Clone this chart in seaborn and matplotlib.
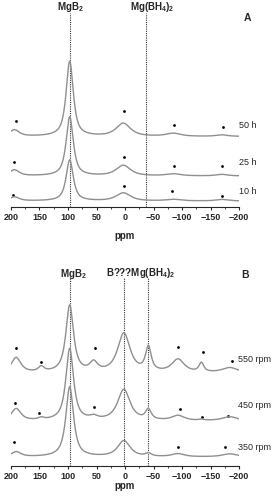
import numpy as np
import pandas as pd
import matplotlib
matplotlib.use("Agg")
import matplotlib.pyplot as plt
import seaborn as sns

# 11B MAS NMR spectra (intensity in arbitrary units)
ppm_ticks = [200, 150, 100, 50, 0, -50, -100, -150, -200]

# panel A: milling time
a_names = ["10 h", "25 h", "50 h"]
a_baseline = [6, 31, 70.5]
a_peak_pos = [194, 97, 3, -85, -170]
a_peak_fwhm = [20, 15, 30, 30, 24]
a_heights = {
    "10 h": [4, 41, 8, 1.5, 1.5],
    "25 h": [6, 59, 10.5, 2, 1.5],
    "50 h": [6.5, 75, 13, 3, 1.5],
}
a_star_ppm = {
    "10 h": [196, 2, -83, -170],
    "25 h": [195, 2, -86, -170],
    "50 h": [192, 2, -86, -172],
}
a_star_int = {
    "10 h": [12, 21, 16, 11],
    "25 h": [45, 50, 41, 41],
    "50 h": [86, 96, 82, 80],
}
a_refs = [97, -37]

# panel B: milling speed
b_names = ["350 rpm", "450 rpm", "550 rpm"]
b_baseline = [9, 45, 93]
b_peak_pos = [191, 147, 97, 55, 2, -41, -93, -134, -184]
b_peak_fwhm = [20, 12, 16, 16, 26, 12, 26, 10, 32]
b_heights = {
    "350 rpm": [5, 0, 70, 0, 16, 3, 3, 0, 3],
    "450 rpm": [12, 2, 72, 3, 31, 10, 5, 1, 4],
    "550 rpm": [15, 5, 67, 9, 39, 24, 13, 9, 5],
}
b_star_ppm = {
    "350 rpm": [195, -93, -175],
    "450 rpm": [193, 151, 54, -96, -135, -181],
    "550 rpm": [191, 147, 53, -93, -137, -188],
}
b_star_int = {
    "350 rpm": [24, 19, 19],
    "450 rpm": [63, 53, 59, 57, 49, 50],
    "550 rpm": [118, 104, 118, 119, 114, 105],
}
b_refs = [97, 2, -40]


def pseudo_voigt(x, pos, fwhm, height, eta):
    y = np.zeros_like(x)
    for p, w, h in zip(pos, fwhm, height):
        u = (x - p) / (w / 2)
        y += h * (eta / (1 + u ** 2) + (1 - eta) * np.exp(-np.log(2) * u ** 2))
    return y


sns.set_style("white")
plt.rcParams["font.family"] = ["Liberation Sans", "DejaVu Sans"]
plt.rcParams["mathtext.default"] = "regular"

grey = "#8f8f8f"
ppm = np.arange(200, -200.25, -0.25)

fig = plt.figure(figsize=(2.75, 4.99), dpi=100)
axA = fig.add_axes([11 / 275, 1 - 207 / 499, 228 / 275, 194 / 499])
axB = fig.add_axes([11 / 275, 1 - 466 / 499, 228 / 275, 188 / 499])


def draw_panel(ax, names, base, pos, fwhm, heights, star_ppm, star_int, eta, refs, labelpad):
    for name, b in zip(names, base):
        df = pd.DataFrame({"ppm": ppm, "I": b + pseudo_voigt(ppm, pos, fwhm, heights[name], eta)})
        sns.lineplot(data=df, x="ppm", y="I", ax=ax, color=grey, lw=1.0, sort=False)
        sns.scatterplot(x=star_ppm[name], y=star_int[name], ax=ax, color="black",
                        s=4, marker="o", linewidth=0)
    for r in refs:
        ax.axvline(r, color="#333333", lw=0.8, ls=(0, (1, 1)), zorder=0)
    ax.set_xlim(200, -200)
    ax.set_xticks(ppm_ticks)
    ax.set_xticks(np.arange(175, -200, -50), minor=True)
    ax.set_yticks([])
    for s in ["left", "right", "top"]:
        ax.spines[s].set_visible(False)
    ax.spines["bottom"].set_linewidth(0.8)
    ax.tick_params(axis="x", which="major", direction="out", length=2.5, width=0.8,
                   pad=1.5, labelsize=6.5, bottom=True)
    ax.tick_params(axis="x", which="minor", direction="out", length=1.5, width=0.6, bottom=True)
    for lab in ax.get_xticklabels():
        lab.set_fontweight("bold")
    ax.set_xlabel("ppm", fontsize=7, fontweight="bold", labelpad=labelpad)
    ax.set_ylabel("")


draw_panel(axA, a_names, a_baseline, a_peak_pos, a_peak_fwhm, a_heights,
           a_star_ppm, a_star_int, 0.8, a_refs, 6.5)
axA.set_ylim(0, 194)
draw_panel(axB, b_names, b_baseline, b_peak_pos, b_peak_fwhm, b_heights,
           b_star_ppm, b_star_int, 0.85, b_refs, 0.5)
axB.set_ylim(0, 188)

# series labels on the right
for name, y in zip(a_names, [16, 45, 82]):
    axA.text(-200, y, name, fontsize=6.5, va="center", ha="left", clip_on=False)
for name, y in zip(b_names, [18, 60, 107]):
    axB.text(-199, y, name, fontsize=6.5, va="center", ha="left", clip_on=False)

# reference labels above the dotted lines
axA.text(95, 200, "MgB$_2$", fontsize=7, fontweight="bold", ha="center", va="center", clip_on=False)
axA.text(-48, 200, "Mg(BH$_4$)$_2$", fontsize=7, fontweight="bold", ha="center", va="center", clip_on=False)
axA.text(-215, 189, "A", fontsize=7.5, fontweight="bold", ha="center", va="center", clip_on=False)
axB.text(91, 192, "MgB$_2$", fontsize=7, fontweight="bold", ha="center", va="center", clip_on=False)
axB.text(-28, 193, "B???Mg(BH$_4$)$_2$", fontsize=7, fontweight="bold", ha="center", va="center", clip_on=False)
axB.text(-211, 191, "B", fontsize=7.5, fontweight="bold", ha="center", va="center", clip_on=False)

fig.savefig("out.png", dpi=100)
